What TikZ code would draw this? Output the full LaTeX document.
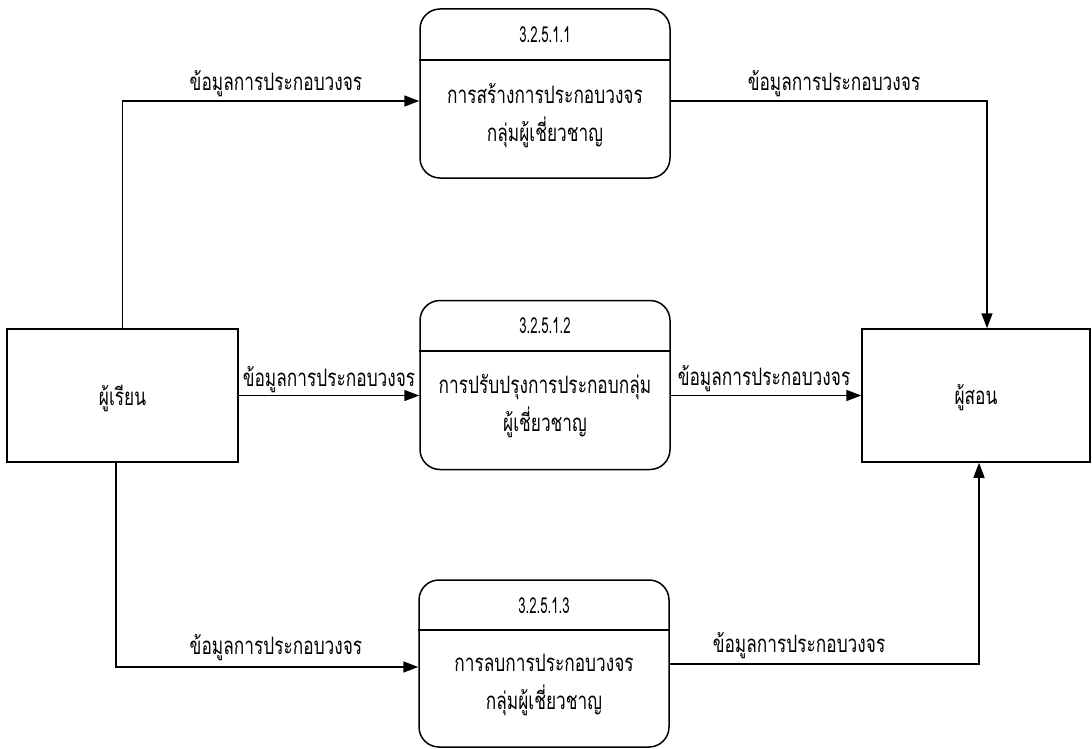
\documentclass[tikz,border=0pt]{standalone}
\usepackage{fontspec}
\newfontfamily\thaifont[Script=Thai, FakeStretch=0.72]{Loma}
\newfontfamily\numfont[FakeStretch=0.6]{Loma}
\usetikzlibrary{arrows.meta}
\begin{document}
\begin{tikzpicture}[x=1pt,y=-1pt,
  every node/.style={font=\thaifont\fontsize{24}{38}\selectfont, inner sep=0pt},
  numtext/.style={font=\numfont\fontsize{22}{24}\selectfont},
  entity/.style={draw, line width=1.5pt, minimum width=231pt, minimum height=133pt},
  proc/.style={draw, line width=1.5pt, rounded corners=20pt, minimum width=250pt, minimum height=169pt},
  flow/.style={line width=1.5pt, -{Triangle[length=15pt,width=11pt]}}]
\useasboundingbox (0,0) rectangle (1092,749);

% external entities
\node[entity] (L) at (122.5,395.5) {};
\node (Lt) at (122.5,398) {ผู้เรียน};
\node[entity, minimum width=228pt] (R) at (976,395.5) {};
\node (Rt) at (976,398) {ผู้สอน};

% processes with a header strip
\node[proc] (p1) at (545,93.5) {};
\draw[line width=1.5pt] (p1.west |- 0,60) -- (p1.east |- 0,60);
\node[numtext] (n1) at (545,35) {3.2.5.1.1};
\node[align=center] (t1) at (545,116) {การสร้างการประกอบวงจร\\กลุ่มผู้เชี่ยวชาญ};

\node[proc] (p2) at (545,385) {};
\draw[line width=1.5pt] (p2.west |- 0,351) -- (p2.east |- 0,351);
\node[numtext] (n2) at (545,326) {3.2.5.1.2};
\node[align=center] (t2) at (545,406) {การปรับปรุงการประกอบกลุ่ม\\ผู้เชี่ยวชาญ};

\node[proc, minimum height=167pt] (p3) at (544,663.5) {};
\draw[line width=1.5pt] (p3.west |- 0,630) -- (p3.east |- 0,630);
\node[numtext] (n3) at (544,606) {3.2.5.1.3};
\node[align=center] (t3) at (544,685) {การลบการประกอบวงจร\\กลุ่มผู้เชี่ยวชาญ};

% data flows
\draw[flow] (L.north) |- ([yshift=-7.5pt]p1.west);
\draw[flow] (L.east) -- (L.east -| p2.west);
\draw[flow] ([xshift=-6.5pt]L.south) |- ([yshift=-3.5pt]p3.west);
\draw[flow] ([yshift=-7.5pt]p1.east) -| ([xshift=11pt]R.north);
\draw[flow] (R.west -| p2.east) -- (R.west);
\draw[flow] ([yshift=-0.5pt]p3.east) -| ([xshift=3pt]R.south);

% flow labels
\node (f1) at (276,84) {ข้อมูลการประกอบวงจร};
\node (f2) at (329,380) {ข้อมูลการประกอบวงจร};
\node (f3) at (276,648) {ข้อมูลการประกอบวงจร};
\node (f4) at (834,84) {ข้อมูลการประกอบวงจร};
\node (f5) at (764,379) {ข้อมูลการประกอบวงจร};
\node (f6) at (799,646) {ข้อมูลการประกอบวงจร};
\end{tikzpicture}
\end{document}
